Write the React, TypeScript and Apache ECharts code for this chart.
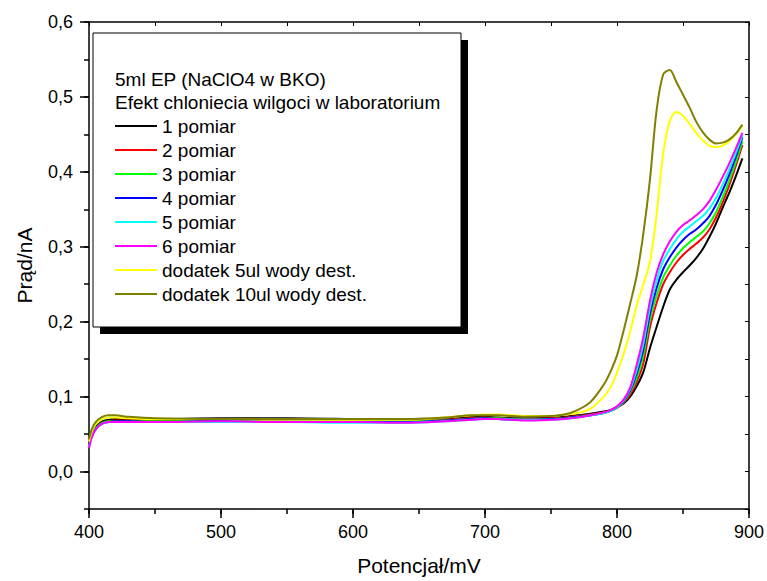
import React, { useEffect, useRef } from "react";
import * as echarts from "echarts";

const X = [400, 402, 405, 410, 415, 420, 430, 450, 500, 550, 600, 640, 670, 690, 700, 710, 730, 750, 760, 770, 780, 790, 795, 800, 805, 810, 815, 820, 825, 830, 835, 840, 845, 850, 855, 860, 865, 870, 875, 880, 885, 890, 895];

const P1 = [0.037, 0.050, 0.060, 0.067, 0.069, 0.070, 0.070, 0.070, 0.071, 0.071, 0.070, 0.069, 0.071, 0.073, 0.073, 0.072, 0.071, 0.072, 0.073, 0.075, 0.077, 0.080, 0.082, 0.086, 0.091, 0.100, 0.114, 0.133, 0.165, 0.193, 0.220, 0.243, 0.256, 0.266, 0.275, 0.285, 0.297, 0.313, 0.331, 0.352, 0.372, 0.394, 0.418];
const P2 = [0.036, 0.048, 0.058, 0.065, 0.067, 0.068, 0.068, 0.068, 0.069, 0.068, 0.068, 0.067, 0.069, 0.071, 0.072, 0.071, 0.070, 0.071, 0.072, 0.074, 0.076, 0.079, 0.081, 0.085, 0.092, 0.103, 0.120, 0.145, 0.193, 0.225, 0.250, 0.266, 0.279, 0.289, 0.297, 0.304, 0.312, 0.323, 0.339, 0.359, 0.382, 0.408, 0.436];
const P3 = [0.035, 0.048, 0.058, 0.065, 0.067, 0.067, 0.067, 0.067, 0.068, 0.068, 0.067, 0.067, 0.068, 0.070, 0.071, 0.071, 0.069, 0.070, 0.071, 0.073, 0.075, 0.078, 0.081, 0.085, 0.093, 0.106, 0.125, 0.155, 0.203, 0.235, 0.259, 0.275, 0.288, 0.298, 0.306, 0.313, 0.320, 0.331, 0.346, 0.366, 0.388, 0.413, 0.441];
const P4 = [0.034, 0.047, 0.057, 0.064, 0.066, 0.067, 0.067, 0.066, 0.067, 0.067, 0.066, 0.066, 0.068, 0.070, 0.071, 0.070, 0.069, 0.070, 0.071, 0.073, 0.075, 0.078, 0.081, 0.086, 0.094, 0.108, 0.131, 0.163, 0.211, 0.245, 0.270, 0.286, 0.299, 0.309, 0.317, 0.323, 0.331, 0.341, 0.356, 0.375, 0.396, 0.420, 0.446];
const P5 = [0.033, 0.046, 0.056, 0.064, 0.066, 0.066, 0.066, 0.066, 0.066, 0.066, 0.065, 0.065, 0.067, 0.069, 0.070, 0.070, 0.069, 0.069, 0.070, 0.072, 0.075, 0.078, 0.081, 0.086, 0.095, 0.110, 0.136, 0.171, 0.219, 0.255, 0.281, 0.297, 0.310, 0.320, 0.327, 0.334, 0.341, 0.351, 0.365, 0.383, 0.403, 0.425, 0.449];
const P6 = [0.031, 0.045, 0.056, 0.064, 0.066, 0.066, 0.066, 0.066, 0.067, 0.066, 0.066, 0.065, 0.067, 0.069, 0.070, 0.070, 0.068, 0.069, 0.070, 0.072, 0.075, 0.079, 0.082, 0.087, 0.096, 0.112, 0.143, 0.180, 0.228, 0.265, 0.290, 0.307, 0.320, 0.329, 0.335, 0.342, 0.350, 0.361, 0.376, 0.393, 0.411, 0.431, 0.452];
const W5 = [0.040, 0.053, 0.063, 0.070, 0.072, 0.072, 0.071, 0.070, 0.070, 0.069, 0.069, 0.069, 0.072, 0.075, 0.076, 0.076, 0.074, 0.074, 0.076, 0.078, 0.084, 0.100, 0.112, 0.132, 0.157, 0.187, 0.222, 0.250, 0.280, 0.343, 0.425, 0.468, 0.480, 0.475, 0.464, 0.452, 0.442, 0.435, 0.433, 0.435, 0.441, 0.450, 0.461];
const W10 = [0.043, 0.056, 0.066, 0.073, 0.075, 0.075, 0.073, 0.071, 0.070, 0.070, 0.070, 0.070, 0.072, 0.075, 0.075, 0.075, 0.073, 0.074, 0.076, 0.082, 0.093, 0.116, 0.133, 0.155, 0.188, 0.224, 0.262, 0.318, 0.390, 0.482, 0.530, 0.536, 0.520, 0.503, 0.486, 0.467, 0.453, 0.443, 0.438, 0.439, 0.443, 0.451, 0.463];

const SERIES_VALUES = [P1, P2, P3, P4, P5, P6, W5, W10];
const SERIES_NAMES = ["1 pomiar", "2 pomiar", "3 pomiar", "4 pomiar", "5 pomiar", "6 pomiar", "dodatek 5ul wody dest.", "dodatek 10ul wody dest."];
const SERIES_COLORS = ["#000000", "#ff0000", "#00ff00", "#0000ff", "#00ffff", "#ff00ff", "#ffff00", "#808000"];

const TITLE_LINES = ["5ml EP (NaClO4 w BKO)", "Efekt chloniecia wilgoci w laboratorium"];
const Y_MAJOR_TICKS = [0, 0.1, 0.2, 0.3, 0.4, 0.5, 0.6];
const X_LABEL = "Potencjał/mV";
const Y_LABEL = "Prąd/nA";

const FONT = "'Liberation Sans', Arial, sans-serif";

export default function App() {
  const ref = useRef<HTMLDivElement>(null);
  useEffect(() => {
    const chart = echarts.init(ref.current!, null, { renderer: "svg" });
    const axisLine = { show: true, onZero: false, lineStyle: { color: "#000", width: 1.5 } };
    const series: any[] = SERIES_VALUES.map((vals, i) => ({
      name: SERIES_NAMES[i],
      type: "line",
      data: X.map((x, j) => [x, vals[j]]),
      smooth: 0.3,
      symbol: "none",
      showSymbol: false,
      xAxisIndex: 0,
      yAxisIndex: 0,
      lineStyle: { color: SERIES_COLORS[i], width: 2 },
      itemStyle: { color: SERIES_COLORS[i] },
      z: 2 + i,
    }));
    chart.setOption({
      animation: false,
      backgroundColor: "#fff",
      textStyle: { fontFamily: FONT },
      grid: { left: 89, top: 22, width: 661, height: 487.5, containLabel: false },
      xAxis: [
        {
          type: "value", position: "bottom", min: 400, max: 900, interval: 100,
          axisLine,
          axisTick: { show: true, inside: false, length: 9, lineStyle: { color: "#000", width: 1.5 } },
          axisLabel: { show: true, fontSize: 18, color: "#000", margin: 14, fontFamily: FONT },
          splitLine: { show: false },
          name: X_LABEL, nameLocation: "middle", nameGap: 46,
          nameTextStyle: { fontSize: 21, color: "#000", fontFamily: FONT },
        },
        {
          type: "value", position: "bottom", min: 400, max: 900, interval: 50,
          axisLine: { show: false, onZero: false },
          axisTick: { show: true, inside: false, length: 5, lineStyle: { color: "#000", width: 1.5 } },
          axisLabel: { show: false },
          splitLine: { show: false },
        },
        {
          type: "value", position: "top", min: 400, max: 900, interval: 50,
          axisLine,
          axisTick: { show: true, inside: true, length: 4, lineStyle: { color: "#000", width: 1 } },
          axisLabel: { show: false },
          splitLine: { show: false },
        },
      ],
      yAxis: [
        {
          type: "value", position: "left", min: -0.05, max: 0.6,
          axisLine,
          axisTick: { show: true, inside: false, length: 9, customValues: Y_MAJOR_TICKS, lineStyle: { color: "#000", width: 1.5 } },
          axisLabel: {
            show: true, customValues: Y_MAJOR_TICKS, fontSize: 18, color: "#000", margin: 16, fontFamily: FONT,
            formatter: (v: number) => v.toFixed(1).replace(".", ","),
          },
          splitLine: { show: false },
          name: Y_LABEL, nameLocation: "middle", nameGap: 54,
          nameTextStyle: { fontSize: 21, color: "#000", fontFamily: FONT },
        },
        {
          type: "value", position: "left", min: -0.05, max: 0.6, interval: 0.05,
          axisLine: { show: false, onZero: false },
          axisTick: { show: true, inside: false, length: 5, lineStyle: { color: "#000", width: 1.5 } },
          axisLabel: { show: false },
          splitLine: { show: false },
        },
        {
          type: "value", position: "right", min: -0.05, max: 0.6, interval: 0.05,
          axisLine,
          axisTick: { show: true, inside: true, length: 4, lineStyle: { color: "#000", width: 1 } },
          axisLabel: { show: false },
          splitLine: { show: false },
        },
      ],
      legend: {
        show: true,
        orient: "vertical",
        left: 115,
        top: 116,
        padding: 0,
        itemGap: 4,
        itemWidth: 42,
        itemHeight: 2,
        icon: "rect",
        selectedMode: false,
        z: 20,
        data: SERIES_NAMES,
        textStyle: { fontSize: 19, color: "#000", fontFamily: FONT, lineHeight: 20 },
      },
      graphic: [
        { type: "rect", z: 10, shape: { x: 100, y: 40, width: 368, height: 294 }, style: { fill: "#000" } },
        { type: "rect", z: 11, shape: { x: 93, y: 33, width: 368, height: 294 }, style: { fill: "#fff", stroke: "#000", lineWidth: 1 } },
        { type: "text", z: 12, x: 115, y: 79, style: { text: TITLE_LINES[0], fontSize: 19, fontFamily: FONT, fill: "#000", textVerticalAlign: "middle", verticalAlign: "middle" } },
        { type: "text", z: 12, x: 115, y: 102, style: { text: TITLE_LINES[1], fontSize: 19, fontFamily: FONT, fill: "#000", textVerticalAlign: "middle", verticalAlign: "middle" } },
      ],
      series,
    });
    return () => chart.dispose();
  }, []);
  return <div ref={ref} style={{ position: "fixed", left: 0, top: 0, width: 767, height: 581, background: "#fff" }} />;
}
